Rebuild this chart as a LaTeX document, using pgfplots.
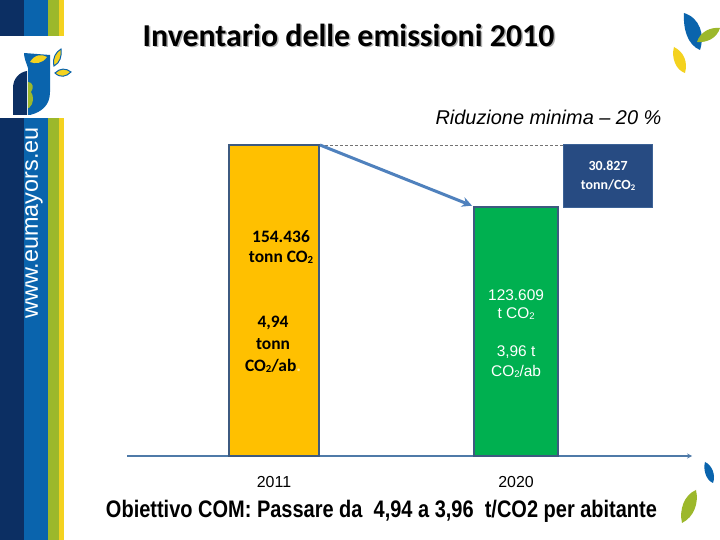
\documentclass[border=0pt]{standalone}
\usepackage{pgfplots}
\pgfplotsset{compat=1.18}
\usetikzlibrary{arrows.meta}
\usepackage{graphicx}
\usepackage{fontspec}
\setmainfont{Liberation Sans}
\newfontfamily\calibri{Carlito}
\newcommand\cotwo{CO\raisebox{-0.15ex}{\scalebox{0.62}{2}}}
\definecolor{navy}{HTML}{0C2F63}
\definecolor{eublue}{HTML}{0A64AD}
\definecolor{eugreen}{HTML}{9CB82B}
\definecolor{euyellow}{HTML}{F4D21F}
\definecolor{baryellow}{HTML}{FFC000}
\definecolor{bargreen}{HTML}{00B050}
\definecolor{barborder}{HTML}{3D5A80}
\definecolor{axisblue}{HTML}{4F7AA8}
\definecolor{arrowblue}{HTML}{4F81BD}
\definecolor{boxblue}{HTML}{274B82}
\definecolor{boxborder}{HTML}{3C6296}
\begin{document}
\begin{tikzpicture}
\useasboundingbox (0,0) rectangle (720bp,540bp);
\fill[white] (0,0) rectangle (720bp,540bp);
\begin{scope}[x=1bp,y=-1bp,yshift=540bp]
% sidebar stripes
\fill[navy] (0,0) rectangle (24,36);
\fill[navy] (0,118) rectangle (24,540);
\fill[eublue] (24,0) rectangle (48,36);
\fill[eublue] (24,118) rectangle (48,540);
\fill[eugreen] (48,0) rectangle (58.5,36);
\fill[eugreen] (48,118) rectangle (58.5,540);
\fill[euyellow] (58.5,0) rectangle (64,36);
\fill[euyellow] (58.5,118) rectangle (64,540);
\node[rotate=90, text=white, font=\fontsize{23.5}{24}\selectfont, inner sep=0pt] at (34,223) {www.eumayors.eu};
% logo
\fill[navy] (13,115) -- (13,88) .. controls (13,78) and (20,72) .. (27,71) -- (27,115) -- cycle;
\fill[eublue] (24,53) -- (50,55) -- (50,92) .. controls (50,105) and (42,112) .. (30,115) -- (28,115) -- (28,68) .. controls (26,62) and (24,58) .. (24,53) -- cycle;
\fill[euyellow] (30,62) .. controls (35,54) and (42,54) .. (47,57) .. controls (42,64) and (35,64) .. (30,62) -- cycle;
\fill[eugreen] (28,82) .. controls (33,82) and (34,88) .. (31,92) .. controls (34,96) and (34,104) .. (29,108) -- (28,108) -- cycle;
\filldraw[fill=euyellow, draw=eublue, line width=1] (54,66) .. controls (52,58) and (56,52) .. (61,49) .. controls (62,56) and (60,63) .. (54,66) -- cycle;
\filldraw[fill=euyellow, draw=eublue, line width=1] (55,73) .. controls (60,68) and (66,68) .. (71,72) .. controls (66,77) and (60,78) .. (55,73) -- cycle;
% top-right leaves
\fill[eublue] (684,13) .. controls (700,18) and (705,35) .. (700,50) .. controls (688,45) and (683,30) .. (684,13) -- cycle;
\fill[eugreen] (697,42) .. controls (700,32) and (710,27) .. (720,28) .. controls (717,38) and (707,43) .. (697,42) -- cycle;
\fill[euyellow] (674,47) .. controls (684,52) and (688,62) .. (685,73) .. controls (676,70) and (671,58) .. (674,47) -- cycle;
% bottom-right leaves
\fill[eublue] (705,462) .. controls (712,465) and (716,475) .. (713,483) .. controls (706,480) and (703,470) .. (705,462) -- cycle;
\fill[eugreen] (696,490) .. controls (699,503) and (694,517) .. (682,523) .. controls (679,510) and (684,495) .. (696,490) -- cycle;
% titles
\node[anchor=base, text=black!30, font=\calibri\bfseries\fontsize{32}{32}\selectfont] at (350,48) {Inventario delle emissioni 2010};
\node[anchor=base, text=black, font=\calibri\bfseries\fontsize{32}{32}\selectfont] at (348.5,46.5) {Inventario delle emissioni 2010};
\node[anchor=base, font=\itshape\fontsize{20}{20}\selectfont] at (548.5,125) {Riduzione minima -- 20 \%};
\node[anchor=base, font=\bfseries\fontsize{24}{24}\selectfont] at (381.5,518) {\resizebox{551bp}{\height}{Obiettivo COM: Passare da\ \ 4,94 a 3,96\ \ t/CO2 per abitante}};
\end{scope}

\begin{axis}[
  at={(274bp,84bp)}, anchor=origin,
  width=565bp, height=352.4bp, scale only axis,
  xmin=-0.607, xmax=1.727, ymin=0, ymax=175000,
  enlargelimits=false, clip=false,
  axis x line=bottom, axis y line=none,
  x axis line style={-{Stealth[length=5bp,width=5bp]}, draw=axisblue, line width=1.8bp},
  xtick={0,1}, xticklabels={2011,2020}, major tick length=0pt,
  xticklabel style={anchor=base, yshift=-31bp, font=\fontsize{16}{16}\selectfont},
  /pgf/number format/assume math mode=true,
  ytick=\empty,
]
\addplot[ybar, bar shift=0pt, bar width=90bp, fill=baryellow, draw=barborder, line width=2.5bp] coordinates {(0,154436)};
\addplot[ybar, bar shift=0pt, bar width=84bp, fill=bargreen, draw=barborder, line width=2.5bp] coordinates {(1,123609)};
\draw[black!55, dash pattern=on 3bp off 2bp, line width=0.7bp] (axis cs:0.19,154436) -- (axis cs:1.194,154436);
\draw[arrowblue, line width=3bp, -{Stealth[length=10bp,width=10bp]}] (axis cs:0.19,154436) -- (axis cs:0.818,124300);
\node[draw=boxborder, fill=boxblue, line width=1.5bp, minimum width=89bp, minimum height=63bp, text=white, align=center, font=\calibri\bfseries\fontsize{14}{19}\selectfont] at (axis cs:1.380,139041) {30.827\\tonn/\cotwo};
\node[align=center, font=\calibri\bfseries\fontsize{17.5}{20}\selectfont] at (axis cs:0.029,103784) {154.436\\tonn \cotwo};
\node[align=center, font=\calibri\bfseries\fontsize{17.5}{22}\selectfont] at (axis cs:-0.004,55616) {4,94\\tonn\\\cotwo/ab{\color{white!60!baryellow}.}};
\node[align=center, text=white, font=\fontsize{15.5}{18}\selectfont] at (axis cs:1,74983) {123.609\\t \cotwo};
\node[align=center, text=white, font=\fontsize{15.5}{20}\selectfont] at (axis cs:1,46678) {3,96 t\\\cotwo/ab};
\end{axis}
\end{tikzpicture}
\end{document}
